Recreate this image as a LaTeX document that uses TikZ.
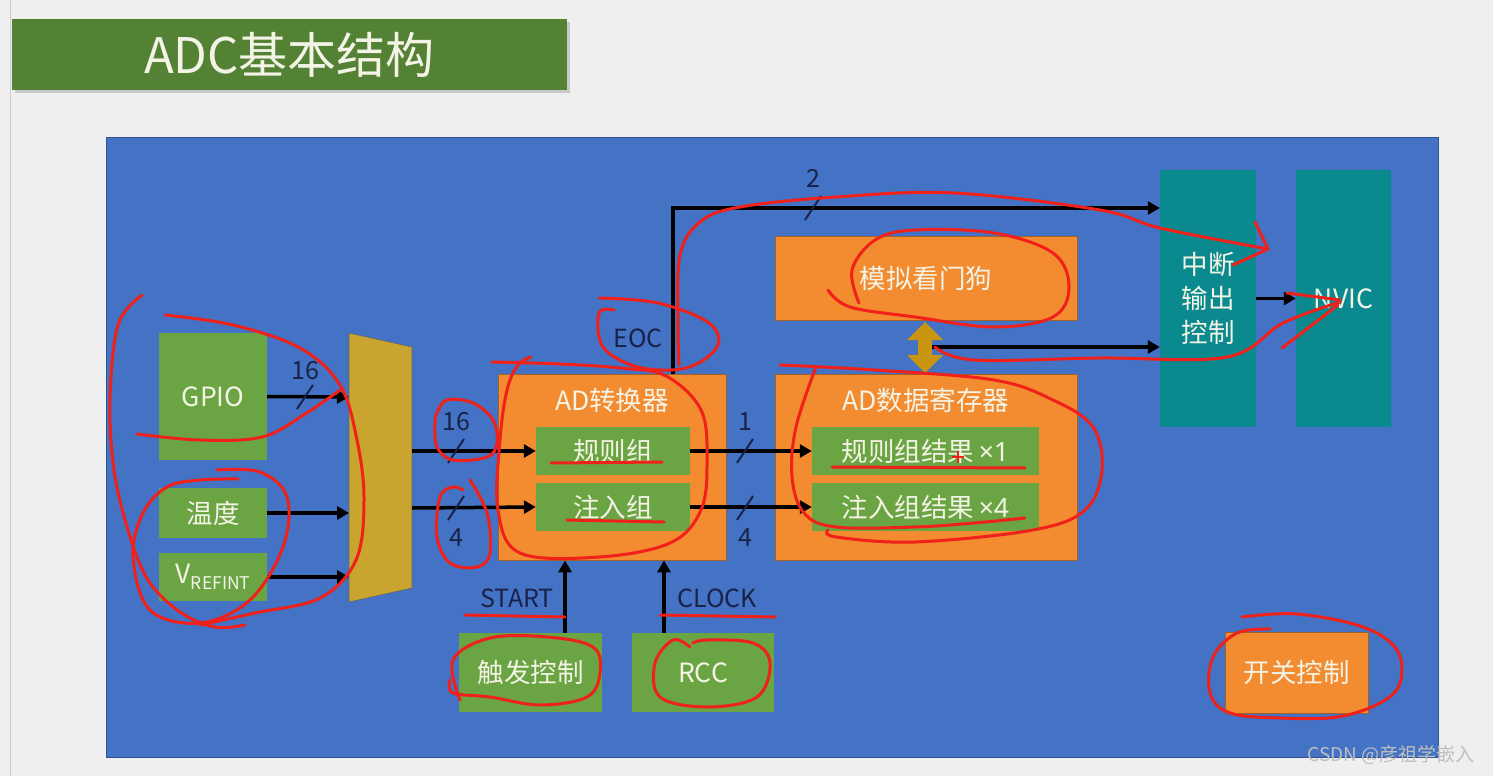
\documentclass[tikz,border=0pt]{standalone}
\usepackage{fontspec}
\setmainfont{Noto Sans CJK SC}
\newfontfamily\latinfont{Noto Sans}
\usetikzlibrary{arrows.meta,shadows}
\definecolor{bgGray}{HTML}{EFEFEF}
\definecolor{titleGreen}{HTML}{548235}
\definecolor{panelBlue}{HTML}{4472C4}
\definecolor{panelEdge}{HTML}{2F528F}
\definecolor{boxGreen}{HTML}{6BA443}
\definecolor{boxOrange}{HTML}{F38B30}
\definecolor{orangeEdge}{HTML}{A0622A}
\definecolor{boxTeal}{HTML}{0A8A8E}
\definecolor{muxGold}{HTML}{C9A42E}
\definecolor{dblGold}{HTML}{C99410}
\definecolor{boxText}{HTML}{F4F4E6}
\definecolor{labelNavy}{HTML}{1A2347}
\definecolor{annRed}{HTML}{F0201A}
\begin{document}
\begin{tikzpicture}[x=1pt,y=-1pt,
  box/.style={inner sep=0pt, text=boxText, font=\fontsize{26.5}{34}\selectfont, align=center},
  grn/.style={box, fill=boxGreen},
  org/.style={box, fill=boxOrange, draw=orangeEdge, line width=0.8pt},
  tealbox/.style={box, fill=boxTeal},
  boxtitle/.style={inner sep=0pt, text=boxText, font=\fontsize{26.5}{30}\selectfont},
  lbl/.style={text=labelNavy, font=\fontsize{25}{28}\selectfont, inner sep=0pt},
  sig/.style={line width=3.5pt, -{Triangle[length=12pt,width=13pt]}},
  bus/.style={line width=2pt, labelNavy},
  redmark/.style={draw=annRed, line width=3pt, line cap=round, line join=round},
]
\useasboundingbox (0,0) rectangle (1493,776);
\fill[bgGray] (0,0) rectangle (1493,776);
\draw[gray!40, line width=1pt] (10,0) -- (10,776);

% title
\node[fill=titleGreen, minimum width=555pt, minimum height=71pt, inner sep=0pt,
      drop shadow={opacity=0.35, shadow xshift=3pt, shadow yshift=-3pt},
      text=boxText, font=\fontsize{49}{52}\selectfont] (title) at (289.5,54.5) {ADC基本结构};

% panel
\node[fill=panelBlue, draw=panelEdge, line width=0.8pt, minimum width=1332pt, minimum height=620pt, inner sep=0pt] (panel) at (772,447) {};

% inputs
\node[grn, minimum width=108pt, minimum height=127pt] (gpio) at (213,396.5) {GPIO};
\node[grn, minimum width=108pt, minimum height=50pt] (wendu) at (213,513) {温度};
\node[grn, minimum width=108pt, minimum height=48pt] (vref) at (213,577) {V{\fontsize{17.5}{20}\selectfont\raisebox{-6pt}{REFINT}}};

% mux
\fill[muxGold, draw=black!60, line width=0.6pt] (349,333) -- (412,347) -- (412,588) -- (349,602) -- cycle;
\coordinate (muxA) at (349,397);
\coordinate (muxB) at (349,513);
\coordinate (muxC) at (349,577);
\coordinate (muxO1) at (412,451);
\coordinate (muxO2) at (412,508);

\draw[sig] (gpio.east) -- (muxA);
\draw[sig] (wendu.east) -- (muxB);
\draw[sig] (vref.east) -- (muxC);
\draw[bus] (297,409) -- (313,385);
\node[lbl] (l16a) at (305,371) {16};

% AD converter
\node[org, minimum width=228pt, minimum height=186pt] (adc) at (612,467) {};
\node[boxtitle] (adcT) at (612,400) {AD转换器};
\node[grn, minimum width=154pt, minimum height=48pt] (reg) at (613,451) {规则组};
\node[grn, minimum width=154pt, minimum height=48pt] (inj) at (613,507) {注入组};

\draw[sig] (muxO1) -- (reg.west);
\draw[sig] (muxO2) -- (inj.west);
\draw[bus] (448,463) -- (464,439);
\node[lbl] (l16b) at (456,422) {16};
\draw[bus] (448,520) -- (464,496);
\node[lbl] (l4a) at (456,538) {4};

% data register
\node[org, minimum width=302pt, minimum height=186pt] (dr) at (926,467) {};
\node[boxtitle] (drT) at (926,400) {AD数据寄存器};
\node[grn, minimum width=227pt, minimum height=48pt] (regR) at (925.5,451) {规则组结果{\latinfont\,×1}};
\node[grn, minimum width=227pt, minimum height=48pt] (injR) at (925.5,507) {注入组结果{\latinfont\,×4}};

\draw[sig] (reg.east) -- (regR.west);
\draw[sig] (inj.east) -- (injR.west);
\draw[bus] (737,463) -- (753,439);
\node[lbl] (l1) at (745,422) {1};
\draw[bus] (737,520) -- (753,496);
\node[lbl] (l4b) at (745,538) {4};

% watchdog
\node[org, minimum width=302pt, minimum height=84pt] (wd) at (926,278) {模拟看门狗};
\fill[dblGold] (925,322) -- (943,340) -- (932,340) -- (932,355) -- (943,355) -- (925,373)
  -- (907,355) -- (918,355) -- (918,340) -- (907,340) -- cycle;
\coordinate (dbl) at (932,347);

% interrupt / NVIC
\node[tealbox, minimum width=96pt, minimum height=257pt] (intc) at (1208,298.5) {中断\\输出\\控制};
\node[tealbox, minimum width=95pt, minimum height=257pt] (nvic) at (1343.5,298.5) {NVIC};

\draw[sig] ([xshift=61pt]adc.north) |- ([yshift=90.5pt]intc.west);
\draw[bus] (805,220) -- (821,196);
\node[lbl] (l2) at (813,178) {2};
\node[lbl] (eoc) at (638,338) {EOC};
\draw[sig] (dbl) -- ([yshift=-48.5pt]intc.west);
\draw[sig] (intc.east) -- (nvic.west);

% bottom
\node[grn, minimum width=143pt, minimum height=79pt] (trig) at (530.5,672.5) {触发控制};
\node[grn, minimum width=142pt, minimum height=79pt] (rcc) at (703,672.5) {RCC};
\draw[sig] ([xshift=34.5pt]trig.north) -- ([xshift=34.5pt]trig.north |- adc.south);
\draw[sig] ([xshift=-39pt]rcc.north) -- ([xshift=-39pt]rcc.north |- adc.south);
\node[lbl] (start) at (517,598) {START};
\node[lbl] (clock) at (717,598) {CLOCK};

\node[org, minimum width=143pt, minimum height=81pt] (sw) at (1296.5,672.5) {开关控制};

% watermark
\node[text=gray!50, font=\fontsize{19}{22}\selectfont, inner sep=0pt] (wm) at (1391,755) {CSDN @彦祖学嵌入};

% red annotations
\draw[redmark] plot[smooth, tension=0.6] coordinates {(142,295) (118,325) (110,400) (114,470) (128,530) (148,580) (180,612) (215,627) (245,625)};
\draw[redmark] plot[smooth, tension=0.6] coordinates {(165,315) (233,325) (300,348) (340,385) (357,440) (364,500) (356,560) (320,598) (255,613) (200,625)};
\draw[redmark] plot[smooth, tension=0.6] coordinates {(137,434) (200,440) (262,437) (305,414) (340,390)};
\draw[redmark] plot[smooth, tension=0.6] coordinates {(238,479) (200,480) (167,487) (143,513) (133,557) (150,610) (200,623) (250,600) (283,547) (287,497) (260,472) (217,470)};
\draw[redmark] plot[smooth cycle, tension=0.6] coordinates {(437,413) (447,400) (473,403) (493,420) (497,443) (487,457) (453,460) (437,447) (435,423)};
\draw[redmark] plot[smooth, tension=0.6] coordinates {(470,480) (487,513) (490,553) (477,567) (450,563) (437,537) (440,497) (453,487) (463,490)};
\draw[redmark] plot[smooth, tension=0.6] coordinates {(492,362) (560,364) (620,368) (666,376) (701,410) (707,460) (701,510) (670,543) (599,557) (520,553) (498,510) (500,440) (507,390) (518,365) (531,357)};
\draw[redmark] plot[smooth, tension=0.6] coordinates {(599,298) (658,303) (709,323) (717,347) (686,368) (638,367) (603,347) (599,313) (614,310)};
\draw[redmark] plot[smooth, tension=0.6] coordinates {(679,365) (678,320) (680,255) (700,222) (740,207) (836,197) (954,193) (1100,210) (1160,228) (1268,249)};
\draw[redmark] (1233,265) -- (1268,249) -- (1255,222);
\draw[redmark] plot[smooth, tension=0.6] coordinates {(828,290) (850,307) (915,317) (994,327) (1053,317) (1069,287) (1053,253) (994,233) (915,230) (875,240) (852,270) (859,303)};
\draw[redmark] plot[smooth, tension=0.6] coordinates {(935,347) (974,360) (1100,358) (1227,357) (1283,323) (1340,302)};
\draw[redmark] (1287,293) -- (1340,300);
\draw[redmark] (1282,348) -- (1338,305);
\draw[redmark] plot[smooth, tension=0.6] coordinates {(780,365) (875,370) (994,380) (1053,400) (1093,427) (1102,470) (1085,510) (1033,530) (915,542) (836,537) (828,530)};
\draw[redmark] plot[smooth, tension=0.6] coordinates {(816,367) (796,427) (792,477) (804,513) (836,527) (915,527) (974,523) (1025,518)};
\draw[redmark] (551,463) -- (662,462);
\draw[redmark] (567,520) -- (664,522);
\draw[redmark] (832,467) -- (1025,468);
\draw[annRed, line width=2pt] (952,457) -- (964,457) (958,451) -- (958,463);
\draw[redmark] (465,615) -- (565,617);
\draw[redmark] (660,615) -- (775,617);
\draw[redmark] plot[smooth, tension=0.6] coordinates {(460,700) (453,660) (490,638) (547,637) (593,647) (600,673) (587,697) (540,705) (490,697) (453,693) (450,680)};
\draw[redmark] plot[smooth, tension=0.6] coordinates {(690,647) (673,640) (655,663) (660,697) (707,707) (757,697) (770,663) (753,643) (707,640) (693,643)};
\draw[redmark] plot[smooth, tension=0.6] coordinates {(1242,617) (1297,614) (1363,627) (1397,650) (1400,683) (1380,703) (1337,717) (1280,718) (1230,713) (1210,693) (1213,657) (1237,633) (1270,629)};
\end{tikzpicture}
\end{document}
